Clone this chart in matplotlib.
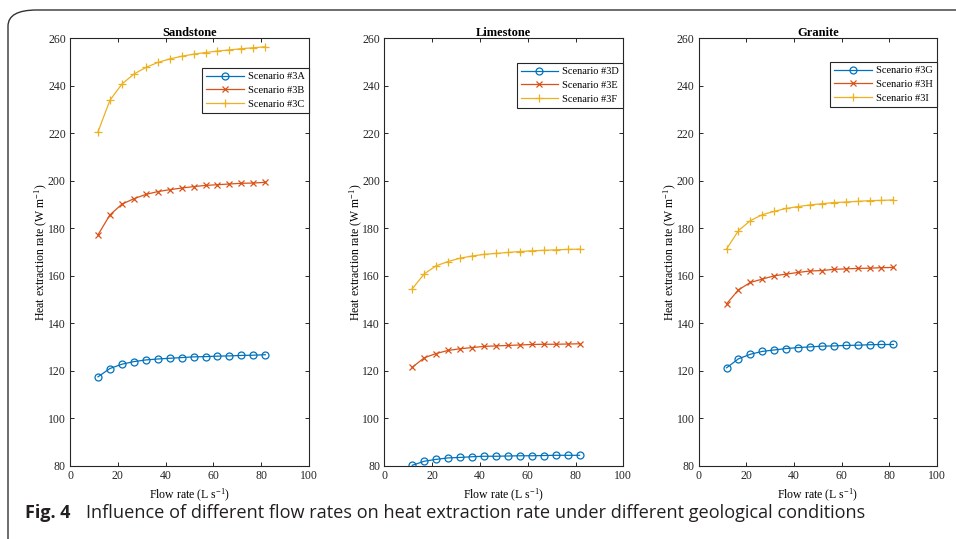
import matplotlib
matplotlib.use("Agg")
import matplotlib.pyplot as plt
from matplotlib.patches import FancyBboxPatch

# flow rates (L/s), shared by all scenarios
flow_rate = [11.7, 16.7, 21.7, 26.7, 31.7, 36.7, 41.7, 46.7, 51.7, 56.7,
             61.7, 66.7, 71.7, 76.7, 81.7]

# heat extraction rate (W/m)
sc_3a = [117.5, 121.0, 122.8, 123.9, 124.6, 125.0, 125.3, 125.6, 125.9, 126.0,
         126.2, 126.3, 126.5, 126.6, 126.8]
sc_3b = [177.2, 185.6, 190.1, 192.4, 194.2, 195.4, 196.2, 196.9, 197.5, 198.0,
         198.3, 198.6, 198.9, 199.0, 199.3]
sc_3c = [220.5, 233.8, 240.6, 244.8, 247.6, 249.7, 251.2, 252.3, 253.2, 253.9,
         254.5, 255.0, 255.5, 255.9, 256.3]

sc_3d = [80.3, 82.0, 82.8, 83.4, 83.6, 83.9, 84.1, 84.1, 84.2, 84.3,
         84.3, 84.4, 84.5, 84.5, 84.5]
sc_3e = [121.5, 125.5, 127.3, 128.6, 129.3, 129.8, 130.3, 130.5, 130.7, 130.9,
         131.1, 131.2, 131.2, 131.3, 131.4]
sc_3f = [154.5, 160.8, 164.2, 166.0, 167.4, 168.3, 169.0, 169.4, 169.8, 170.2,
         170.5, 170.7, 170.9, 171.1, 171.2]

sc_3g = [121.3, 125.1, 127.0, 128.2, 128.8, 129.4, 129.8, 130.1, 130.4, 130.5,
         130.7, 130.8, 131.0, 131.1, 131.1]
sc_3h = [148.2, 154.1, 157.2, 158.6, 160.0, 160.7, 161.4, 162.0, 162.2, 162.7,
         162.9, 163.1, 163.2, 163.4, 163.5]
sc_3i = [171.3, 179.0, 183.2, 185.7, 187.1, 188.3, 189.1, 189.8, 190.3, 190.8,
         191.0, 191.3, 191.6, 191.7, 191.9]

panel_titles = ["Sandstone", "Limestone", "Granite"]
panel_series = [
    [("Scenario #3A", sc_3a), ("Scenario #3B", sc_3b), ("Scenario #3C", sc_3c)],
    [("Scenario #3D", sc_3d), ("Scenario #3E", sc_3e), ("Scenario #3F", sc_3f)],
    [("Scenario #3G", sc_3g), ("Scenario #3H", sc_3h), ("Scenario #3I", sc_3i)],
]
x_ticks = [0, 20, 40, 60, 80, 100]
y_ticks = [80, 100, 120, 140, 160, 180, 200, 220, 240, 260]

colors = ["#0072BD", "#D95319", "#EDB120"]
markers = ["o", "x", "+"]
marker_sizes = [5, 4.2, 6]

W, H = 956, 539
plt.rcParams["font.family"] = ["Liberation Serif", "DejaVu Serif"]
plt.rcParams["mathtext.fontset"] = "stix"

fig = plt.figure(figsize=(W / 100, H / 100), dpi=100)
fig.patch.set_facecolor("white")

# rounded frame around the figure
frame = FancyBboxPatch((8 / W, -0.2), 1.2, 1.2 - 10 / H,
                       boxstyle="round,pad=0,rounding_size=0.03",
                       transform=fig.transFigure, facecolor="none",
                       edgecolor="#333333", linewidth=1.0, zorder=0)
fig.patches.append(frame)

# axes boxes in pixels: left, width
boxes = [(70, 239), (384.3, 239), (698.7, 238.3)]
top, bottom = 38, 466
legend_tops = [68, 63, 62]

for i, (left, width) in enumerate(boxes):
    ax = fig.add_axes([left / W, 1 - bottom / H, width / W, (bottom - top) / H])
    for j, (label, vals) in enumerate(panel_series[i]):
        ax.plot(flow_rate, vals, color=colors[j], marker=markers[j],
                markersize=marker_sizes[j], markerfacecolor="none",
                markeredgewidth=0.9, linewidth=0.9, label=label)
    ax.set_xlim(0, 100)
    ax.set_ylim(80, 260)
    ax.set_xticks(x_ticks)
    ax.set_yticks(y_ticks)
    ax.tick_params(direction="in", top=True, right=True, length=3,
                   width=0.7, labelsize=8.5, colors="#262626", pad=3)
    for s in ax.spines.values():
        s.set_color("#262626")
        s.set_linewidth(0.8)
    ax.set_title(panel_titles[i], fontsize=9, fontweight="bold", pad=1.5)
    ax.set_xlabel(r"Flow rate (L s$^{\mathregular{-1}}$)", fontsize=8.5,
                  labelpad=3)
    ax.set_ylabel(r"Heat extraction rate (W m$^{\mathregular{-1}}$)",
                  fontsize=8.5, labelpad=-1)
    leg_y = 1 - (legend_tops[i] - top) / (bottom - top)
    leg = ax.legend(loc="upper right", bbox_to_anchor=(1.0, leg_y),
                    borderaxespad=0, fontsize=7.5, fancybox=False,
                    framealpha=1, edgecolor="#262626", handlelength=3.6,
                    handletextpad=0.4, labelspacing=0.42, borderpad=0.4)
    leg.get_frame().set_linewidth(0.8)

fig.text(25 / W, 1 - 513 / H, "Fig. 4", fontsize=13, fontweight="bold",
         family=["Open Sans", "DejaVu Sans"], va="center", color="#231f20")
fig.text(86 / W, 1 - 513 / H,
         "Influence of different flow rates on heat extraction rate under "
         "different geological conditions",
         fontsize=13.1, family=["Open Sans", "DejaVu Sans"], va="center",
         color="#231f20")

fig.savefig("out.png", dpi=100)
